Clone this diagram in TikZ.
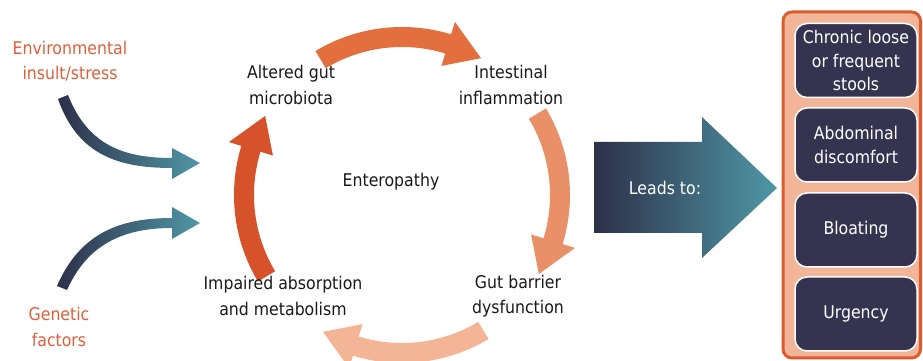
\documentclass[tikz,border=0pt]{standalone}
\usepackage{fontspec}
\setmainfont{DejaVu Sans Condensed}
\usetikzlibrary{calc}
\definecolor{txtorange}{HTML}{E0603A}
\definecolor{navy}{HTML}{2D3049}
\definecolor{teal}{HTML}{4F98A6}
\definecolor{arrtop}{HTML}{E36F3F}
\definecolor{arrright}{HTML}{EA9068}
\definecolor{arrbottom}{HTML}{F3B596}
\definecolor{arrleft}{HTML}{D5522B}
\definecolor{panelfill}{HTML}{F2B597}
\definecolor{panelborder}{HTML}{DD5B30}
\definecolor{boxfill}{HTML}{35334F}
\definecolor{txtdark}{HTML}{1A1A1A}
\newcommand\cycarrow[4]{%
  \fill[#1] ($(C)+(#2:168)$) arc[start angle=#2, end angle=#3, radius=168pt]
    -- ($(C)+(#3:181)$) -- ($(C)+(#4:158)$) -- ($(C)+(#3:135)$)
    -- ($(C)+(#3:148)$) arc[start angle=#3, end angle=#2, radius=148pt] -- cycle;}
\begin{document}
\begin{tikzpicture}[x=1pt,y=1pt,
  font=\fontsize{17.5}{25.5}\selectfont,
  lbl/.style={align=center, text=txtdark, inner sep=0pt},
  olbl/.style={align=center, text=txtorange, inner sep=0pt},
  symbox/.style={draw=white, line width=1.5pt, fill=boxfill, rounded corners=12pt,
    minimum width=122pt, minimum height=74pt, text=white, align=center,
    inner sep=0pt, font=\fontsize{17.5}{23.5}\selectfont}]
\useasboundingbox (0,0) rectangle (923,361);
\fill[white] (0,0) rectangle (923,361);

% left labels
\node[olbl] (env) at (70,300) {Environmental\\insult/stress};
\node[olbl] (gen) at (59,34) {Genetic\\factors};

% left curved arrows
\shade[left color=navy, right color=teal]
  (58,262) .. controls (78,205) and (120,193) .. (172,193)
  -- (172,182) -- (200,198) coordinate (tip1) -- (172,213) -- (172,203)
  .. controls (125,203) and (88,215) .. (68,266) -- cycle;
\shade[left color=navy, right color=teal]
  (67,71) .. controls (88,118) and (125,133) .. (172,133)
  -- (172,122) -- (200,138) coordinate (tip2) -- (172,154) -- (172,143)
  .. controls (120,143) and (80,128) .. (57,75) -- cycle;

% cycle
\coordinate (C) at (402,166);
\cycarrow{arrtop}{121}{73}{60}
\cycarrow{arrright}{31}{-17}{-30}
\cycarrow{arrbottom}{-59}{-107}{-120}
\cycarrow{arrleft}{211}{163}{150}

\node[lbl] (alt) at (291,276) {Altered gut\\microbiota};
\node[lbl] (inf) at (511,276) {Intestinal\\inflammation};
\node[lbl] (ent) at (391,179) {Enteropathy};
\node[lbl] (imp) at (283,65) {Impaired absorption\\and metabolism};
\node[lbl] (gut) at (518,65) {Gut barrier\\dysfunction};

% big arrow
\shade[left color=navy, right color=teal]
  (594,219) -- (702,219) -- (702,244) -- (777,173) -- (702,103) -- (702,128) -- (594,128) -- cycle;
\node[text=white, inner sep=0pt] (leads) at (665,173) {Leads to:};

% right panel
\draw[panelborder, fill=panelfill, line width=3pt, rounded corners=9pt]
  (783,3) rectangle (920.5,349);
\node[symbox] (b1) at (856,300.5) {Chronic loose\\or frequent\\stools};
\node[symbox] (b2) at (856,216) {Abdominal\\discomfort};
\node[symbox] (b3) at (856,131) {Bloating};
\node[symbox] (b4) at (856,47) {Urgency};
\end{tikzpicture}
\end{document}
